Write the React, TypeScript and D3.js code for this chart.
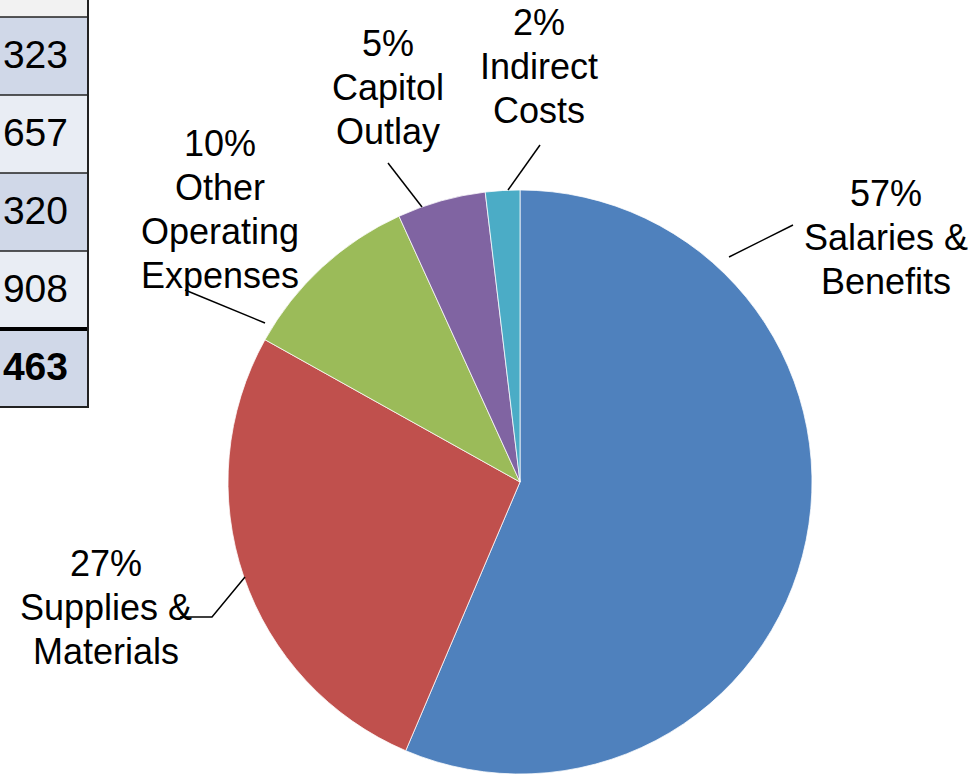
import React from "react";
import * as d3 from "d3";

const categories = [
  "Salaries & Benefits",
  "Supplies & Materials",
  "Other Operating Expenses",
  "Capitol Outlay",
  "Indirect Costs",
];
const shares = [56.4, 26.7, 10.1, 4.9, 1.9];
const percentLabels = ["57%", "27%", "10%", "5%", "2%"];
const labelLines = [
  ["Salaries &", "Benefits"],
  ["Supplies &", "Materials"],
  ["Other", "Operating", "Expenses"],
  ["Capitol", "Outlay"],
  ["Indirect", "Costs"],
];
const colors = ["#4f81bd", "#c0504d", "#9bbb59", "#8064a2", "#4bacc6"];

const tableValues = ["323", "657", "320", "908"];
const tableTotal = "463";

// layout of labels (annotation positions)
const labelPos: [number, number][] = [
  [886, 206],
  [106, 576],
  [220, 156],
  [388, 56],
  [539, 35],
];
const leaderPaths: [number, number][][] = [
  [[729, 257], [793, 225]],
  [[180, 617], [212, 617], [245, 577]],
  [[185, 290], [265, 323]],
  [[388, 163], [422, 207]],
  [[508, 190], [540, 145]],
];

const FONT = "'Liberation Sans', Arial, Helvetica, sans-serif";

export default function App() {
  const W = 980, H = 776;
  const cx = 520, cy = 482, R = 292;
  const pie = d3.pie<number>().sort(null).value((d) => d);
  const arcs = pie(shares);
  const arc = d3.arc<d3.PieArcDatum<number>>().innerRadius(0).outerRadius(R);
  const line = d3.line();

  const rowTop = 17, rowH = 78, tableRight = 88;
  const rowFills = ["#d0d8e8", "#e9edf4", "#d0d8e8", "#e9edf4"];
  const lh = 44;
  const tfs = 39;

  return (
    <div style={{ position: "fixed", left: 0, top: 0 }}>
      <svg width={W} height={H} style={{ display: "block", background: "#fff" }} fontFamily={FONT}>
        {/* table fragment */}
        <rect x={0} y={0} width={tableRight} height={rowTop} fill="#f2f2f2" />
        {tableValues.map((v, i) => (
          <g key={i}>
            <rect x={0} y={rowTop + i * rowH} width={tableRight} height={rowH} fill={rowFills[i]} />
            <text x={68} y={rowTop + i * rowH + 51} fontSize={tfs} textAnchor="end" fill="#000">{v}</text>
          </g>
        ))}
        <rect x={0} y={rowTop + 4 * rowH} width={tableRight} height={rowH} fill="#d0d8e8" />
        <text x={68} y={rowTop + 4 * rowH + 51} fontSize={tfs} fontWeight="bold" textAnchor="end" fill="#000">{tableTotal}</text>
        {[0, 1, 2, 3].map((i) => (
          <line key={i} x1={0} x2={tableRight + 1} y1={rowTop + i * rowH} y2={rowTop + i * rowH} stroke="#222" strokeWidth={1.5} />
        ))}
        <line x1={0} x2={tableRight + 1} y1={rowTop + 4 * rowH} y2={rowTop + 4 * rowH} stroke="#000" strokeWidth={4} />
        <line x1={0} x2={tableRight + 1} y1={rowTop + 5 * rowH} y2={rowTop + 5 * rowH} stroke="#222" strokeWidth={2} />
        <line x1={tableRight} x2={tableRight} y1={0} y2={rowTop + 5 * rowH + 1} stroke="#222" strokeWidth={2} />

        {/* pie */}
        <g transform={`translate(${cx},${cy})`}>
          {arcs.map((a, i) => (
            <path key={categories[i]} d={arc(a) || ""} fill={colors[i]} stroke="#fff" strokeWidth={0.75} />
          ))}
        </g>

        {/* leader lines */}
        {leaderPaths.map((p, i) => (
          <path key={i} d={line(p) || ""} fill="none" stroke="#000" strokeWidth={1.5} />
        ))}

        {/* labels */}
        {categories.map((c, i) => {
          const [x, y] = labelPos[i];
          const lines = [percentLabels[i], ...labelLines[i]];
          return (
            <text key={c} x={x} y={y} fontSize={36} textAnchor="middle" fill="#000">
              {lines.map((t, j) => (
                <tspan key={j} x={x} y={y + j * lh}>{t}</tspan>
              ))}
            </text>
          );
        })}
      </svg>
    </div>
  );
}
